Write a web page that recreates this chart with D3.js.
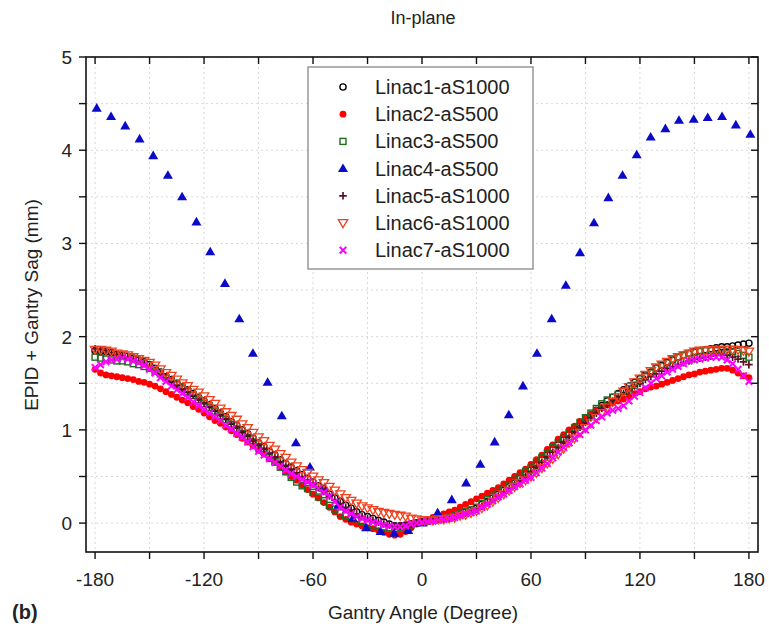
<!DOCTYPE html>
<html><head><meta charset="utf-8">
<script src="https://cdn.jsdelivr.net/npm/d3@7"></script>
<style>
html,body{margin:0;padding:0;background:#fff;}
text{font-family:"Liberation Sans",Arial,sans-serif;fill:#222;}
</style></head>
<body>
<svg id="chart" width="769" height="632"></svg>
<script>
// ---------- DATA ----------
const chartTitle = "In-plane";
const xLabel = "Gantry Angle (Degree)";
const yLabel = "EPID + Gantry Sag (mm)";
const panelLabel = "(b)";
const xTickValues = [-180, -120, -60, 0, 60, 120, 180];
const yTickValues = [0, 1, 2, 3, 4, 5];
const seriesNames = ["Linac1-aS1000","Linac2-aS500","Linac3-aS500","Linac4-aS500","Linac5-aS1000","Linac6-aS1000","Linac7-aS1000"];

const angles = [-180,-177,-174,-171,-168,-165,-162,-159,-156,-153,-150,-147,-144,-141,-138,-135,-132,-129,-126,-123,-120,-117,-114,-111,-108,-105,-102,-99,-96,-93,-90,-87,-84,-81,-78,-75,-72,-69,-66,-63,-60,-57,-54,-51,-48,-45,-42,-39,-36,-33,-30,-27,-24,-21,-18,-15,-12,-9,-6,-3,0,3,6,9,12,15,18,21,24,27,30,33,36,39,42,45,48,51,54,57,60,63,66,69,72,75,78,81,84,87,90,93,96,99,102,105,108,111,114,117,120,123,126,129,132,135,138,141,144,147,150,153,156,159,162,165,168,171,174,177,180];

const linac1 = [1.85,1.84,1.84,1.83,1.81,1.80,1.79,1.77,1.75,1.73,1.70,1.66,1.62,1.57,1.54,1.50,1.46,1.43,1.39,1.35,1.31,1.27,1.23,1.18,1.14,1.09,1.05,1.00,0.96,0.91,0.86,0.82,0.77,0.73,0.68,0.64,0.60,0.56,0.52,0.48,0.44,0.40,0.36,0.31,0.27,0.23,0.19,0.16,0.12,0.09,0.07,0.05,0.03,0.01,-0.01,-0.03,-0.03,-0.02,-0.01,0.00,0.01,
0.02,0.03,0.04,0.05,0.06,0.08,0.10,0.12,0.14,0.16,0.20,0.23,0.27,0.31,0.35,0.39,0.43,0.48,0.52,0.57,0.62,0.68,0.73,0.79,0.84,0.89,0.95,1.00,1.05,1.10,1.16,1.21,1.26,1.31,1.35,1.39,1.43,1.47,1.51,1.55,1.59,1.62,1.66,1.69,1.72,1.75,1.78,1.80,1.82,1.84,1.85,1.86,1.87,1.88,1.89,1.89,1.90,1.91,1.92,1.93];

const linac2 = [1.65,1.61,1.59,1.58,1.57,1.56,1.55,1.54,1.52,1.51,1.49,1.47,1.44,1.41,1.38,1.35,1.32,1.29,1.25,1.22,1.18,1.14,1.10,1.07,1.03,0.99,0.95,0.91,0.87,0.83,0.78,0.74,0.69,0.65,0.60,0.55,0.50,0.46,0.41,0.36,0.31,0.27,0.22,0.17,0.12,0.07,0.04,0.01,-0.01,-0.03,-0.05,-0.06,-0.08,-0.10,-0.12,-0.13,-0.12,-0.09,-0.05,-0.01,0.02,
0.04,0.06,0.08,0.10,0.12,0.14,0.17,0.20,0.23,0.26,0.29,0.32,0.35,0.38,0.42,0.46,0.50,0.54,0.58,0.63,0.68,0.73,0.79,0.84,0.90,0.95,1.00,1.04,1.09,1.13,1.17,1.21,1.24,1.27,1.29,1.31,1.33,1.36,1.39,1.41,1.44,1.46,1.47,1.49,1.51,1.53,1.55,1.57,1.59,1.60,1.62,1.63,1.64,1.65,1.66,1.66,1.64,1.61,1.58,1.56];

const linac3 = [1.78,1.77,1.76,1.75,1.74,1.74,1.73,1.71,1.70,1.68,1.66,1.63,1.60,1.56,1.52,1.49,1.45,1.41,1.37,1.32,1.28,1.24,1.20,1.15,1.11,1.06,1.01,0.96,0.92,0.87,0.82,0.77,0.71,0.66,0.60,0.55,0.49,0.44,0.40,0.37,0.33,0.28,0.24,0.19,0.15,0.11,0.08,0.05,0.03,0.02,0.00,-0.02,-0.03,-0.05,-0.05,-0.06,-0.05,-0.04,-0.02,0.00,0.01,
0.02,0.03,0.04,0.05,0.06,0.08,0.10,0.12,0.14,0.17,0.21,0.25,0.29,0.33,0.37,0.41,0.46,0.50,0.55,0.59,0.65,0.70,0.75,0.81,0.86,0.91,0.97,1.02,1.08,1.13,1.18,1.23,1.28,1.32,1.35,1.38,1.41,1.44,1.48,1.52,1.57,1.61,1.66,1.70,1.73,1.76,1.78,1.80,1.82,1.83,1.84,1.85,1.85,1.85,1.85,1.84,1.84,1.82,1.80,1.78];

const linac4Angles = [-179.1,-171.2,-163.4,-155.5,-148.0,-139.9,-132.1,-124.2,-116.6,-108.5,-100.6,-93.1,-85.0,-77.2,-69.4,-61.7,-53.9,-46.1,-38.1,-30.8,-22.8,-15.3,-7.6,0.3,8.6,16.4,24.3,32.1,40.0,47.8,55.6,63.3,71.4,79.2,87.0,94.7,102.6,110.4,118.2,125.9,134.0,141.5,149.6,157.3,165.2,172.8,180.8];
const linac4 = [4.45,4.36,4.26,4.12,3.94,3.73,3.50,3.23,2.91,2.57,2.19,1.82,1.51,1.15,0.86,0.60,0.37,0.19,0.05,-0.05,-0.09,-0.11,-0.08,0.00,0.11,0.25,0.43,0.63,0.87,1.16,1.47,1.82,2.19,2.55,2.90,3.22,3.49,3.73,3.95,4.14,4.23,4.32,4.33,4.35,4.36,4.27,4.17];

const linac5 = [1.87,1.86,1.85,1.83,1.81,1.80,1.78,1.76,1.74,1.71,1.68,1.64,1.60,1.56,1.52,1.48,1.44,1.41,1.37,1.33,1.29,1.25,1.21,1.16,1.12,1.07,1.03,0.98,0.94,0.89,0.84,0.80,0.75,0.71,0.66,0.62,0.58,0.54,0.50,0.46,0.42,0.38,0.34,0.29,0.25,0.21,0.17,0.14,0.10,0.07,0.05,0.03,0.01,-0.01,-0.02,-0.03,-0.03,-0.02,-0.01,0.00,0.01,
0.02,0.02,0.03,0.04,0.05,0.07,0.09,0.11,0.13,0.15,0.18,0.22,0.25,0.29,0.33,0.37,0.41,0.46,0.50,0.55,0.60,0.65,0.71,0.76,0.81,0.87,0.92,0.98,1.03,1.08,1.13,1.18,1.23,1.27,1.31,1.35,1.39,1.43,1.47,1.50,1.54,1.57,1.60,1.63,1.66,1.68,1.70,1.72,1.74,1.76,1.77,1.78,1.79,1.80,1.81,1.80,1.78,1.76,1.73,1.70];

const linac6 = [1.86,1.86,1.85,1.84,1.82,1.81,1.80,1.78,1.76,1.74,1.72,1.69,1.65,1.61,1.58,1.54,1.50,1.47,1.43,1.40,1.36,1.32,1.28,1.23,1.19,1.15,1.11,1.06,1.02,0.97,0.92,0.88,0.83,0.79,0.74,0.70,0.65,0.61,0.57,0.54,0.50,0.46,0.43,0.39,0.35,0.31,0.27,0.24,0.21,0.18,0.16,0.14,0.12,0.11,0.10,0.09,0.08,0.07,0.05,0.04,0.03,
0.03,0.03,0.04,0.04,0.05,0.06,0.08,0.09,0.11,0.13,0.16,0.19,0.23,0.27,0.31,0.35,0.39,0.43,0.46,0.50,0.54,0.59,0.64,0.69,0.74,0.80,0.86,0.91,0.97,1.02,1.07,1.13,1.18,1.24,1.30,1.35,1.41,1.46,1.51,1.55,1.59,1.63,1.67,1.70,1.73,1.76,1.78,1.80,1.82,1.84,1.85,1.85,1.86,1.86,1.86,1.86,1.86,1.86,1.85,1.84];

const linac7 = [1.67,1.70,1.73,1.75,1.76,1.77,1.76,1.74,1.72,1.69,1.65,1.61,1.56,1.52,1.47,1.43,1.39,1.35,1.30,1.26,1.22,1.18,1.14,1.10,1.05,1.01,0.96,0.92,0.87,0.82,0.77,0.73,0.69,0.65,0.61,0.57,0.53,0.50,0.47,0.44,0.41,0.37,0.33,0.29,0.23,0.17,0.13,0.10,0.07,0.05,0.03,0.01,0.00,-0.02,-0.03,-0.04,-0.04,-0.03,-0.01,0.00,0.01,
0.02,0.02,0.03,0.04,0.05,0.06,0.08,0.10,0.11,0.13,0.17,0.20,0.24,0.28,0.31,0.35,0.39,0.42,0.46,0.49,0.54,0.59,0.64,0.70,0.76,0.81,0.86,0.91,0.95,1.00,1.05,1.10,1.14,1.18,1.21,1.23,1.26,1.31,1.36,1.40,1.45,1.50,1.55,1.58,1.62,1.65,1.68,1.71,1.74,1.75,1.76,1.77,1.78,1.78,1.78,1.75,1.71,1.65,1.58,1.52];

// ---------- LAYOUT ----------
const svg = d3.select("#chart");
const L = 86, R = 758, T = 57, B = 552;
const x = d3.scaleLinear().domain([-185, 185]).range([L, R]);
const y = d3.scaleLinear().domain([-0.31, 5]).range([B, T]);

const gridX = [-180,-150,-120,-90,-60,-30,0,30,60,90,120,150,180];
const gridY = [0,0.5,1,1.5,2,2.5,3,3.5,4,4.5,5];

// grid
const grid = svg.append("g");
grid.selectAll("line.gx").data(gridX).join("line")
  .attr("x1", d => x(d)).attr("x2", d => x(d)).attr("y1", T).attr("y2", B)
  .attr("stroke", "#d8d8d8").attr("stroke-width", 1).attr("stroke-dasharray", "2,3");
grid.selectAll("line.gy").data(gridY).join("line")
  .attr("y1", d => y(d)).attr("y2", d => y(d)).attr("x1", L).attr("x2", R)
  .attr("stroke", "#d8d8d8").attr("stroke-width", 1).attr("stroke-dasharray", "2,3");

// markers
const sym = {
  circle: (g, cx, cy, c) => g.append("circle").attr("cx", cx).attr("cy", cy).attr("r", 3.1).attr("fill", "none").attr("stroke", c).attr("stroke-width", 1.4),
  dot: (g, cx, cy, c) => g.append("circle").attr("cx", cx).attr("cy", cy).attr("r", 3.4).attr("fill", c),
  square: (g, cx, cy, c) => g.append("rect").attr("x", cx - 3).attr("y", cy - 3).attr("width", 6).attr("height", 6).attr("fill", "none").attr("stroke", c).attr("stroke-width", 1.4),
  tri: (g, cx, cy, c) => g.append("path").attr("d", `M${cx},${cy-5.2}L${cx+5},${cy+3.4}L${cx-5},${cy+3.4}Z`).attr("fill", c),
  plus: (g, cx, cy, c) => g.append("path").attr("d", `M${cx-3.8},${cy}H${cx+3.8}M${cx},${cy-3.8}V${cy+3.8}`).attr("stroke", c).attr("stroke-width", 1.7),
  dtri: (g, cx, cy, c) => g.append("path").attr("d", `M${cx},${cy+4.6}L${cx+4.7},${cy-3.4}L${cx-4.7},${cy-3.4}Z`).attr("fill", "none").attr("stroke", c).attr("stroke-width", 1.3),
  times: (g, cx, cy, c) => g.append("path").attr("d", `M${cx-3.3},${cy-3.3}L${cx+3.3},${cy+3.3}M${cx-3.3},${cy+3.3}L${cx+3.3},${cy-3.3}`).attr("stroke", c).attr("stroke-width", 2)
};

const series = [
  {name: seriesNames[0], xs: angles, ys: linac1, shape: "circle", color: "#000000"},
  {name: seriesNames[1], xs: angles, ys: linac2, shape: "dot", color: "#ff0000"},
  {name: seriesNames[2], xs: angles, ys: linac3, shape: "square", color: "#1f6b1f"},
  {name: seriesNames[3], xs: linac4Angles, ys: linac4, shape: "tri", color: "#0a0ac8"},
  {name: seriesNames[4], xs: angles, ys: linac5, shape: "plus", color: "#5c1024"},
  {name: seriesNames[5], xs: angles, ys: linac6, shape: "dtri", color: "#f2401e"},
  {name: seriesNames[6], xs: angles, ys: linac7, shape: "times", color: "#ff00ff"}
];

const marks = svg.append("g");
series.forEach(s => {
  const g = marks.append("g");
  s.xs.forEach((a, i) => sym[s.shape](g, x(a), y(s.ys[i]), s.color));
});

// frame
svg.append("rect").attr("x", L).attr("y", T).attr("width", R - L).attr("height", B - T)
  .attr("fill", "none").attr("stroke", "#111").attr("stroke-width", 1.6);

// axes ticks
const tk = 7;
const ticks = svg.append("g").attr("stroke", "#111").attr("stroke-width", 1.4);
gridX.forEach(d => {
  ticks.append("line").attr("x1", x(d)).attr("x2", x(d)).attr("y1", B).attr("y2", B + tk);
  ticks.append("line").attr("x1", x(d)).attr("x2", x(d)).attr("y1", T).attr("y2", T + tk);
});
gridY.forEach(d => {
  ticks.append("line").attr("y1", y(d)).attr("y2", y(d)).attr("x1", L).attr("x2", L - tk);
  ticks.append("line").attr("y1", y(d)).attr("y2", y(d)).attr("x1", R).attr("x2", R - tk);
});

// tick labels
svg.append("g").selectAll("text").data(xTickValues).join("text")
  .attr("x", d => x(d)).attr("y", 586).attr("text-anchor", "middle")
  .attr("font-size", 19).text(d => d);
svg.append("g").selectAll("text").data(yTickValues).join("text")
  .attr("x", 72).attr("y", d => y(d) + 7).attr("text-anchor", "end")
  .attr("font-size", 19).text(d => d);

// titles
svg.append("text").attr("x", 423).attr("y", 24).attr("text-anchor", "middle").attr("font-size", 18).text(chartTitle);
svg.append("text").attr("x", 423).attr("y", 619).attr("text-anchor", "middle").attr("font-size", 19).text(xLabel);
svg.append("text").attr("transform", "translate(38,305) rotate(-90)").attr("text-anchor", "middle").attr("font-size", 19).text(yLabel);
svg.append("text").attr("x", 12).attr("y", 619).attr("font-size", 20).attr("font-weight", "bold").text(panelLabel);

// legend
const lg = svg.append("g");
lg.append("rect").attr("x", 308).attr("y", 67).attr("width", 225).attr("height", 202)
  .attr("fill", "#fff").attr("stroke", "#888").attr("stroke-width", 1.3);
series.forEach((s, i) => {
  const cy = 87 + i * 27.2;
  sym[s.shape](lg, 343, cy, s.color);
  lg.append("text").attr("x", 375).attr("y", cy + 7).attr("font-size", 20).text(s.name);
});
</script>
</body></html>
